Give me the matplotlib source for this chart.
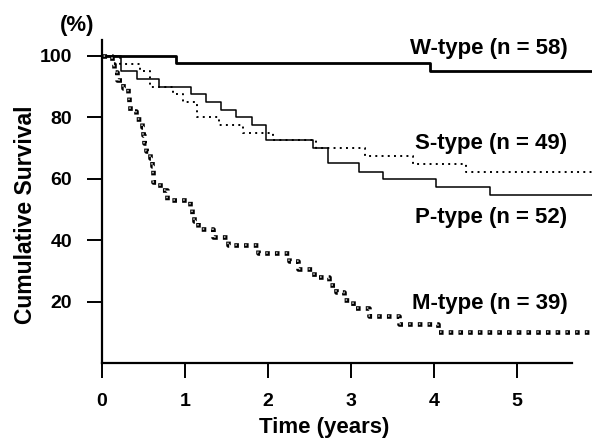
import matplotlib
matplotlib.use("Agg")
import matplotlib.pyplot as plt

plt.rcParams['font.family'] = ['Liberation Sans', 'DejaVu Sans']

# ---- data ----
x_ticks = [0, 1, 2, 3, 4, 5]
y_ticks = [20, 40, 60, 80, 100]

W_t = [0, 0.89, 3.95, 5.9]
W_s = [100, 97.8, 95.0, 95.0]

P_t = [0, 0.23, 0.42, 0.69, 1.07, 1.25, 1.43, 1.62, 1.81, 1.98, 2.54, 2.72,
       3.10, 3.39, 4.03, 4.68, 5.9]
P_s = [100, 95.2, 92.6, 90.0, 87.7, 85.1, 82.4, 80.1, 77.6, 72.7, 70.2, 65.1,
       62.4, 60.0, 57.4, 54.9, 54.9]

S_t = [0, 0.22, 0.46, 0.58, 0.86, 0.98, 1.15, 1.41, 1.70, 2.06, 2.58, 3.17,
       3.75, 4.39, 5.9]
S_s = [100, 97.5, 95.0, 90.0, 87.6, 85.1, 80.2, 77.6, 75.1, 72.7, 70.2, 67.5,
       65.0, 62.4, 62.4]

M_t = [0, 0.12, 0.15, 0.18, 0.25, 0.31, 0.33, 0.34, 0.41, 0.48, 0.50, 0.51,
       0.53, 0.58, 0.60, 0.61, 0.62, 0.70, 0.78, 1.06, 1.08, 1.11, 1.16, 1.34,
       1.52, 1.88, 2.25, 2.36, 2.56, 2.74, 2.82, 2.92, 3.02, 3.22, 3.58, 4.05,
       5.9]
M_s = [100, 97.4, 94.9, 92.3, 89.7, 87.2, 84.6, 82.1, 79.5, 76.9, 74.4, 71.8,
       69.2, 66.7, 64.1, 61.5, 59.0, 56.4, 53.2, 51.3, 48.7, 46.2, 43.6, 41.0,
       38.5, 35.9, 33.3, 30.8, 28.2, 25.6, 23.1, 20.5, 17.9, 15.4, 12.8, 10.3,
       10.3]

labels = ["W-type (n = 58)", "S-type (n = 49)", "P-type (n = 52)", "M-type (n = 39)"]
label_y = [102.4, 71.7, 47.6, 19.6]

# ---- figure ----
fig = plt.figure(figsize=(5.94, 4.45), dpi=100)
ax = fig.add_axes([0.1717, 0.18315, 0.8244, 0.7270])
ax.set_xlim(0, 5.9)
ax.set_ylim(0, 105.2)

ax.step(W_t, W_s, where='post', color='black', lw=2.0, solid_capstyle='butt')
ax.step(P_t, P_s, where='post', color='black', lw=1.1, solid_capstyle='butt')
ax.step(S_t, S_s, where='post', color='black', lw=1.4, linestyle=(0, (1, 2.2)))
# M-type: chain of small hollow squares
ax.step(M_t, M_s, where='post', color='black', lw=3.3, linestyle=(0, (1.0, 1.1212)))
ax.step(M_t, M_s, where='post', color='#d0d0d0', lw=1.1, linestyle=(5.3636, (1.0, 5.3636)))

for lab, yy in zip(labels, label_y):
    ax.text(5.61, yy, lab, ha='right', va='center', fontsize=16,
            fontweight='bold', clip_on=False)

for side in ['top', 'right']:
    ax.spines[side].set_visible(False)
for side in ['left', 'bottom']:
    ax.spines[side].set_linewidth(1.6)
ax.spines['bottom'].set_bounds(0, 5.66)

ax.set_xticks(x_ticks)
ax.set_xticklabels([str(v) for v in x_ticks])
ax.set_yticks(y_ticks)
ax.set_yticklabels([str(v) for v in y_ticks])
ax.tick_params(axis='both', direction='out', length=10.5, width=1.4,
               labelsize=14, pad=11)
for lbl in ax.get_xticklabels() + ax.get_yticklabels():
    lbl.set_fontweight('bold')

fig.text(26 / 594, 1 - 215 / 445, "Cumulative Survival", rotation=90,
         ha='center', va='center', fontsize=16.5, fontweight='bold')
fig.text(324 / 594, 1 - 428 / 445, "Time (years)", ha='center', va='center',
         fontsize=16, fontweight='bold')
fig.text(77 / 594, 1 - 25 / 445, "(%)", ha='center', va='center',
         fontsize=16, fontweight='bold')

fig.savefig("out.png", dpi=100, facecolor='white')
